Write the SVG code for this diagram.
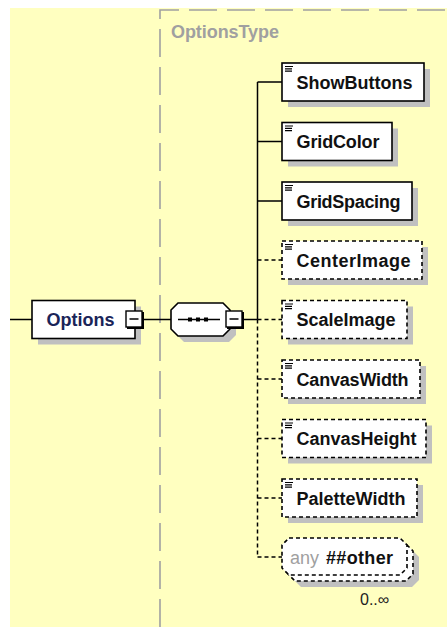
<svg xmlns="http://www.w3.org/2000/svg" width="447" height="627" viewBox="0 0 447 627">
<defs>
<style>
.bg{fill:#FFFFC0}
.box{fill:#fff;stroke:#000;stroke-width:1.6}
.opt{stroke-dasharray:4 3}
.sh{fill:#C0C0C0}
.lbl{font-family:"Liberation Sans",Arial,sans-serif;font-weight:bold;font-size:18px;fill:#111}
.con{stroke:#000;stroke-width:1.5;fill:none}
.dash{stroke-dasharray:4 3}
.icon{stroke:#000;stroke-width:1.2;fill:none}
.frame{stroke:#A0A0A0;stroke-width:1.6;fill:none;stroke-dasharray:28 10}
.btn{fill:#fff;stroke:#000;stroke-width:1.4}
.btnsh{stroke:#000;stroke-width:2;fill:none}
</style>
<path id="ico" class="icon" d="M3,3.5h8M3,5.8h7M3,8.1h7"/>
</defs>
<rect class="bg" x="10" y="8" width="437" height="619"/>

<g id="OptionsType">
<path class="frame" d="M160,627V10H447"/>
<text class="lbl" x="171" y="38" style="fill:#A0A0A0" textLength="108" lengthAdjust="spacing">OptionsType</text>
</g>

<g id="connectors">
<path class="con" d="M10,319.5H32M143,319.5H171M243,319.5H257.5M257.5,82V319.5M257.5,82H282M257.5,141.5H282M257.5,201H282"/>
<path class="con dash" d="M257.5,319.5V557M257.5,260H282M257.5,319.5H282M257.5,379H282M257.5,438.5H282M257.5,498H282M257.5,557H282"/>
</g>

<g id="Options">
<rect class="sh" x="38" y="306.5" width="103" height="38"/>
<rect class="box" x="32" y="300.5" width="103" height="38"/>
<text class="lbl" x="46.5" y="326" style="fill:#1a2458" textLength="68" lengthAdjust="spacing">Options</text>
<rect class="btn" x="126" y="311" width="16" height="16"/>
<path class="btnsh" d="M143,312V328H127"/>
<path class="con" d="M129.5,319H138.5"/>
</g>

<g id="sequence">
<path class="sh" d="M184,309H229L236,316V335L229,342H184L177,335V316Z"/>
<path class="box" d="M178,303H223L230,310V329L223,336H178L171,329V310Z"/>
<path class="con" d="M178,319.5H220"/>
<rect x="188" y="317.5" width="4" height="4"/>
<rect x="196" y="317.5" width="4" height="4"/>
<rect x="204" y="317.5" width="4" height="4"/>
<rect class="btn" x="226" y="311" width="16" height="16"/>
<path class="btnsh" d="M243,312V328H227"/>
<path class="con" d="M229.5,319H238.5"/>
</g>

<g id="ShowButtons" transform="translate(282,63)">
<rect class="sh" x="6" y="6" width="142" height="38"/>
<rect class="box" width="142" height="38"/>
<use href="#ico"/>
<text class="lbl" x="14.5" y="25.5" textLength="116" lengthAdjust="spacing">ShowButtons</text>
</g>
<g id="GridColor" transform="translate(282,122.5)">
<rect class="sh" x="6" y="6" width="110" height="38"/>
<rect class="box" width="110" height="38"/>
<use href="#ico"/>
<text class="lbl" x="14.5" y="25.5" textLength="83" lengthAdjust="spacing">GridColor</text>
</g>
<g id="GridSpacing" transform="translate(282,182)">
<rect class="sh" x="6" y="6" width="130" height="38"/>
<rect class="box" width="130" height="38"/>
<use href="#ico"/>
<text class="lbl" x="14.5" y="25.5" textLength="104" lengthAdjust="spacing">GridSpacing</text>
</g>
<g id="CenterImage" transform="translate(282,241)">
<rect class="sh" x="6" y="6" width="140" height="38"/>
<rect class="box opt" width="140" height="38"/>
<use href="#ico"/>
<text class="lbl" x="14.5" y="25.5" textLength="114" lengthAdjust="spacing">CenterImage</text>
</g>
<g id="ScaleImage" transform="translate(282,300.5)">
<rect class="sh" x="6" y="6" width="125" height="38"/>
<rect class="box opt" width="125" height="38"/>
<use href="#ico"/>
<text class="lbl" x="14.5" y="25.5" textLength="99" lengthAdjust="spacing">ScaleImage</text>
</g>
<g id="CanvasWidth" transform="translate(282,360)">
<rect class="sh" x="6" y="6" width="138" height="38"/>
<rect class="box opt" width="138" height="38"/>
<use href="#ico"/>
<text class="lbl" x="14.5" y="25.5" textLength="112" lengthAdjust="spacing">CanvasWidth</text>
</g>
<g id="CanvasHeight" transform="translate(282,419.5)">
<rect class="sh" x="6" y="6" width="144" height="38"/>
<rect class="box opt" width="144" height="38"/>
<use href="#ico"/>
<text class="lbl" x="14.5" y="25.5" textLength="120" lengthAdjust="spacing">CanvasHeight</text>
</g>
<g id="PaletteWidth" transform="translate(282,479)">
<rect class="sh" x="6" y="6" width="135" height="38"/>
<rect class="box opt" width="135" height="38"/>
<use href="#ico"/>
<text class="lbl" x="14.5" y="25.5" textLength="109" lengthAdjust="spacing">PaletteWidth</text>
</g>
<g id="any" transform="translate(282,538)">
<path class="sh" d="M19,12H130L137,19V42L130,49H19L12,42V19Z"/>
<path class="box opt" d="M13,6H124L131,13V36L124,43H13L6,36V13Z"/>
<path class="box opt" d="M7,0H118L125,7V30L118,37H7L0,30V7Z"/>
<text x="8" y="25.5" style="font-family:'Liberation Sans',Arial,sans-serif;font-size:18px;fill:#A0A0A0">any</text>
<text class="lbl" x="44" y="25.5" textLength="67" lengthAdjust="spacing">##other</text>
</g>
<text x="360" y="605" style="font-family:'Liberation Sans',Arial,sans-serif;font-size:16px;fill:#222">0..∞</text>
</svg>
